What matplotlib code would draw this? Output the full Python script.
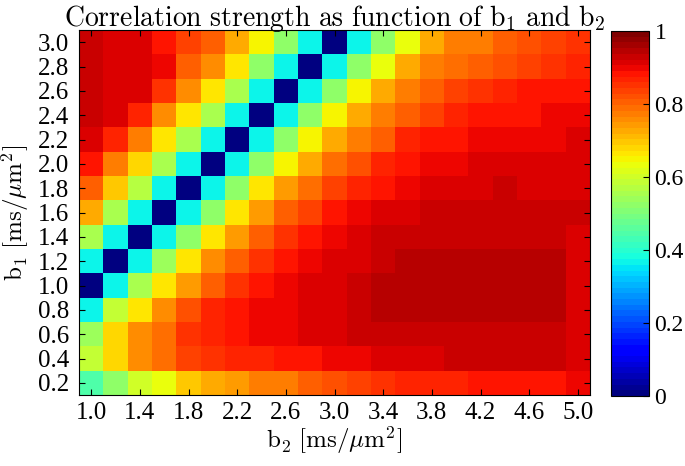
"""
Correlation strength heat map of b1 vs b2 (jet colour map, MATLAB look).
"""

import numpy as np
import matplotlib
matplotlib.use("Agg")
import matplotlib.pyplot as plt

plt.rcParams["mathtext.fontset"] = "cm"
plt.rcParams["font.family"] = "serif"
plt.rcParams["font.serif"] = ["Liberation Serif", "DejaVu Serif"]

# b values (cell centres)
b1 = [0.2, 0.4, 0.6, 0.8, 1.0, 1.2, 1.4, 1.6, 1.8, 2.0, 2.2, 2.4, 2.6, 2.8, 3.0]
b2 = [1.0, 1.2, 1.4, 1.6, 1.8, 2.0, 2.2, 2.4, 2.6, 2.8, 3.0,
      3.2, 3.4, 3.6, 3.8, 4.0, 4.2, 4.4, 4.6, 4.8, 5.0]

# correlation strength, one list per b1 row (b2 along the row)
corr_b1_02 = [0.45, 0.53, 0.60, 0.63, 0.69, 0.72, 0.74, 0.77, 0.78, 0.80, 0.82,
              0.84, 0.85, 0.86, 0.87, 0.87, 0.88, 0.88, 0.89, 0.89, 0.90]
corr_b1_04 = [0.59, 0.68, 0.75, 0.79, 0.83, 0.85, 0.86, 0.87, 0.88, 0.89, 0.90,
              0.905, 0.91, 0.91, 0.91, 0.925, 0.925, 0.925, 0.925, 0.925, 0.915]
corr_b1_06 = [0.54, 0.68, 0.75, 0.79, 0.85, 0.87, 0.88, 0.90, 0.905, 0.91, 0.915,
              0.925, 0.935, 0.935, 0.935, 0.935, 0.935, 0.935, 0.935, 0.935, 0.92]
corr_b1_08 = [0.36, 0.59, 0.67, 0.76, 0.82, 0.86, 0.88, 0.90, 0.905, 0.91, 0.915,
              0.925, 0.94, 0.94, 0.94, 0.94, 0.94, 0.94, 0.94, 0.94, 0.92]
corr_b1_10 = [0.01, 0.36, 0.55, 0.67, 0.74, 0.80, 0.85, 0.88, 0.90, 0.91, 0.915,
              0.925, 0.94, 0.94, 0.94, 0.94, 0.94, 0.94, 0.94, 0.94, 0.92]
corr_b1_12 = [0.36, 0.01, 0.36, 0.54, 0.67, 0.75, 0.80, 0.85, 0.89, 0.905, 0.91,
              0.92, 0.925, 0.94, 0.94, 0.94, 0.94, 0.94, 0.94, 0.94, 0.92]
corr_b1_14 = [0.55, 0.36, 0.01, 0.36, 0.53, 0.66, 0.74, 0.80, 0.85, 0.88, 0.90,
              0.91, 0.925, 0.925, 0.93, 0.93, 0.93, 0.93, 0.93, 0.93, 0.92]
corr_b1_16 = [0.72, 0.55, 0.36, 0.01, 0.36, 0.53, 0.66, 0.74, 0.80, 0.84, 0.88,
              0.905, 0.92, 0.92, 0.925, 0.925, 0.925, 0.925, 0.925, 0.925, 0.925]
corr_b1_18 = [0.80, 0.70, 0.57, 0.36, 0.01, 0.36, 0.53, 0.66, 0.74, 0.79, 0.83,
              0.87, 0.89, 0.90, 0.91, 0.91, 0.915, 0.925, 0.915, 0.915, 0.915]
corr_b1_20 = [0.88, 0.78, 0.68, 0.55, 0.36, 0.01, 0.36, 0.53, 0.65, 0.73, 0.79,
              0.82, 0.86, 0.88, 0.895, 0.90, 0.91, 0.91, 0.915, 0.915, 0.915]
corr_b1_22 = [0.91, 0.86, 0.77, 0.66, 0.55, 0.36, 0.01, 0.36, 0.53, 0.65, 0.73,
              0.78, 0.81, 0.86, 0.88, 0.89, 0.895, 0.90, 0.905, 0.905, 0.91]
corr_b1_24 = [0.925, 0.91, 0.86, 0.76, 0.66, 0.55, 0.36, 0.01, 0.36, 0.53, 0.65,
              0.72, 0.77, 0.80, 0.84, 0.86, 0.88, 0.89, 0.89, 0.895, 0.90]
corr_b1_26 = [0.925, 0.92, 0.91, 0.85, 0.76, 0.66, 0.55, 0.36, 0.01, 0.36, 0.53,
              0.65, 0.72, 0.77, 0.80, 0.83, 0.85, 0.87, 0.88, 0.88, 0.89]
corr_b1_28 = [0.925, 0.92, 0.915, 0.90, 0.80, 0.75, 0.67, 0.53, 0.36, 0.01, 0.36,
              0.52, 0.63, 0.72, 0.77, 0.79, 0.80, 0.82, 0.84, 0.85, 0.86]
corr_b1_30 = [0.925, 0.92, 0.91, 0.89, 0.83, 0.80, 0.73, 0.65, 0.53, 0.36, 0.01,
              0.36, 0.52, 0.63, 0.73, 0.77, 0.78, 0.80, 0.82, 0.83, 0.85]

corr = np.array([corr_b1_02, corr_b1_04, corr_b1_06, corr_b1_08, corr_b1_10,
                 corr_b1_12, corr_b1_14, corr_b1_16, corr_b1_18, corr_b1_20,
                 corr_b1_22, corr_b1_24, corr_b1_26, corr_b1_28, corr_b1_30])

xticks = [1.0, 1.4, 1.8, 2.2, 2.6, 3.0, 3.4, 3.8, 4.2, 4.6, 5.0]
yticks = b1
cticks = [0, 0.2, 0.4, 0.6, 0.8, 1]
cticklabels = ["0", "0.2", "0.4", "0.6", "0.8", "1"]


def edges(c):
    # cell edges from evenly spaced centres
    c = np.asarray(c)
    d = c[1] - c[0]
    return np.append(c - d / 2, c[-1] + d / 2)


fig = plt.figure(figsize=(6.85, 4.66), dpi=100)
ax = fig.add_axes([79 / 685, 1 - 395 / 466, 511 / 685, 365 / 466])
cax = fig.add_axes([611 / 685, 1 - 396 / 466, 38 / 685, 365 / 466])

cmap = plt.get_cmap("jet", 64)
mesh = ax.pcolormesh(edges(b2), edges(b1), corr, cmap=cmap, vmin=0, vmax=1)

ax.set_xticks(xticks)
ax.set_xticklabels([f"{v:.1f}" for v in xticks])
ax.set_yticks(yticks)
ax.set_yticklabels([f"{v:.1f}" for v in yticks])
ax.tick_params(direction="in", top=True, right=True, length=4,
               width=0.8, labelsize=18)
ax.tick_params(axis="x", pad=5)
ax.tick_params(axis="y", pad=7)
for s in ax.spines.values():
    s.set_linewidth(0.8)

ax.set_title(r"$\mathrm{Correlation\ strength\ as\ function\ of\ b_1\ and\ b_2}$",
             fontsize=20, pad=3)
ax.set_xlabel(r"$\mathrm{b_2\ [ms/}\mu\mathrm{m^2]}$", fontsize=18, labelpad=0)
ax.set_ylabel(r"$\mathrm{b_1\ [ms/}\mu\mathrm{m^2]}$", fontsize=18)
ax.yaxis.set_label_coords(-0.093, 0.5)

cb = fig.colorbar(mesh, cax=cax, ticks=cticks)
cb.ax.set_yticklabels(cticklabels)
cb.ax.tick_params(direction="in", length=4, width=0.8, labelsize=17, pad=4)
cb.outline.set_linewidth(0.8)

fig.savefig("out.png", dpi=100, facecolor="white")
plt.close()
